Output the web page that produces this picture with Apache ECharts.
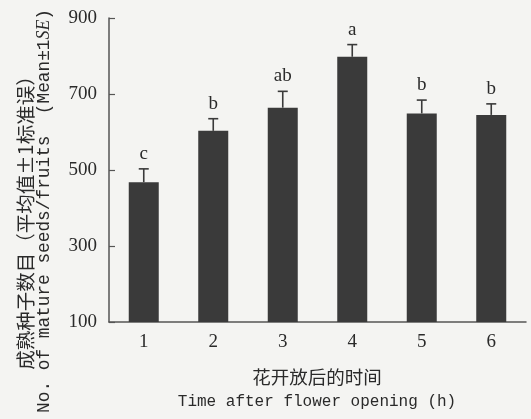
<!DOCTYPE html>
<html>
<head>
<meta charset="utf-8">
<script src="https://cdn.jsdelivr.net/npm/echarts@6/dist/echarts.min.js"></script>
<style>
html,body{margin:0;padding:0;background:#f4f4f2;}
#c{width:531px;height:419px;}
</style>
</head>
<body>
<div id="c"></div>
<script>
var categories = ['1', '2', '3', '4', '5', '6'];
var means = [468, 603, 664, 798, 649, 645];
var se = [35, 32, 43, 32, 35, 29];
var letters = ['c', 'b', 'ab', 'a', 'b', 'b'];
var yTicks = [100, 300, 500, 700, 900];

var chart = echarts.init(document.getElementById('c'));
var errData = categories.map(function (c, i) { return [i, means[i], means[i] + se[i], letters[i]]; });

var txtColor = '#2a2a2a';
var option = {
  backgroundColor: '#f4f4f2',
  animation: false,
  grid: { left: 109, right: 5, top: 18, bottom: 97, containLabel: false },
  xAxis: {
    type: 'category',
    data: categories,
    axisLine: { lineStyle: { color: '#555', width: 1.5 } },
    axisTick: { inside: true, length: 5, lineStyle: { color: '#555', width: 1.2 } },
    axisLabel: { color: txtColor, fontFamily: 'Liberation Serif', fontSize: 19, margin: 11 }
  },
  yAxis: {
    type: 'value',
    min: yTicks[0],
    max: yTicks[yTicks.length - 1],
    interval: 200,
    splitLine: { show: false },
    axisLine: { show: true, lineStyle: { color: '#555', width: 1.5 } },
    axisTick: { show: true, inside: true, length: 6, lineStyle: { color: '#555', width: 1.2 } },
    axisLabel: { color: txtColor, fontFamily: 'Liberation Serif', fontSize: 19, margin: 12 }
  },
  series: [
    {
      type: 'bar',
      data: means,
      barWidth: 30,
      itemStyle: { color: '#3a3a3a' }
    },
    {
      type: 'custom',
      data: errData,
      z: 5,
      renderItem: function (params, api) {
        var i = api.value(0);
        var base = api.coord([i, api.value(1)]);
        var top = api.coord([i, api.value(2)]);
        var hw = 5;
        var st = { stroke: '#3a3a3a', lineWidth: 1.6 };
        return {
          type: 'group',
          children: [
            { type: 'line', shape: { x1: base[0], y1: base[1], x2: top[0], y2: top[1] }, style: st },
            { type: 'line', shape: { x1: top[0] - hw, y1: top[1], x2: top[0] + hw, y2: top[1] }, style: st },
            { type: 'text', x: top[0], y: top[1] - 15, style: {
                text: letters[i], fill: txtColor, font: '19px "Liberation Serif"',
                align: 'center', verticalAlign: 'middle' } }
          ]
        };
      }
    }
  ],
  graphic: [
    {
      type: 'text', x: 26, y: 218, rotation: Math.PI / 2,
      style: { text: '成熟种子数目（平均值±1标准误）', fill: txtColor,
        font: '19.5px "Noto Sans CJK SC"', align: 'center', verticalAlign: 'middle' }
    },
    {
      type: 'text', x: 44, y: 211, rotation: Math.PI / 2,
      style: {
        text: '{a|No. of mature seeds/fruits  (Mean±1}{b|SE}{a|)}',
        align: 'center', verticalAlign: 'middle',
        rich: {
          a: { fontFamily: 'Liberation Mono', fontSize: 17.8, fill: txtColor, color: txtColor },
          b: { fontFamily: 'Liberation Serif', fontStyle: 'italic', fontSize: 17.8, fill: txtColor, color: txtColor }
        }
      }
    },
    {
      type: 'text', x: 317, y: 377,
      style: { text: '花开放后的时间', fill: txtColor, font: '18.5px "Noto Sans CJK SC"',
        align: 'center', verticalAlign: 'middle' }
    },
    {
      type: 'text', x: 317, y: 402,
      style: { text: 'Time after flower opening (h)', fill: txtColor, font: '16px "Liberation Mono"',
        align: 'center', verticalAlign: 'middle' }
    }
  ]
};
chart.setOption(option);
</script>
</body>
</html>
